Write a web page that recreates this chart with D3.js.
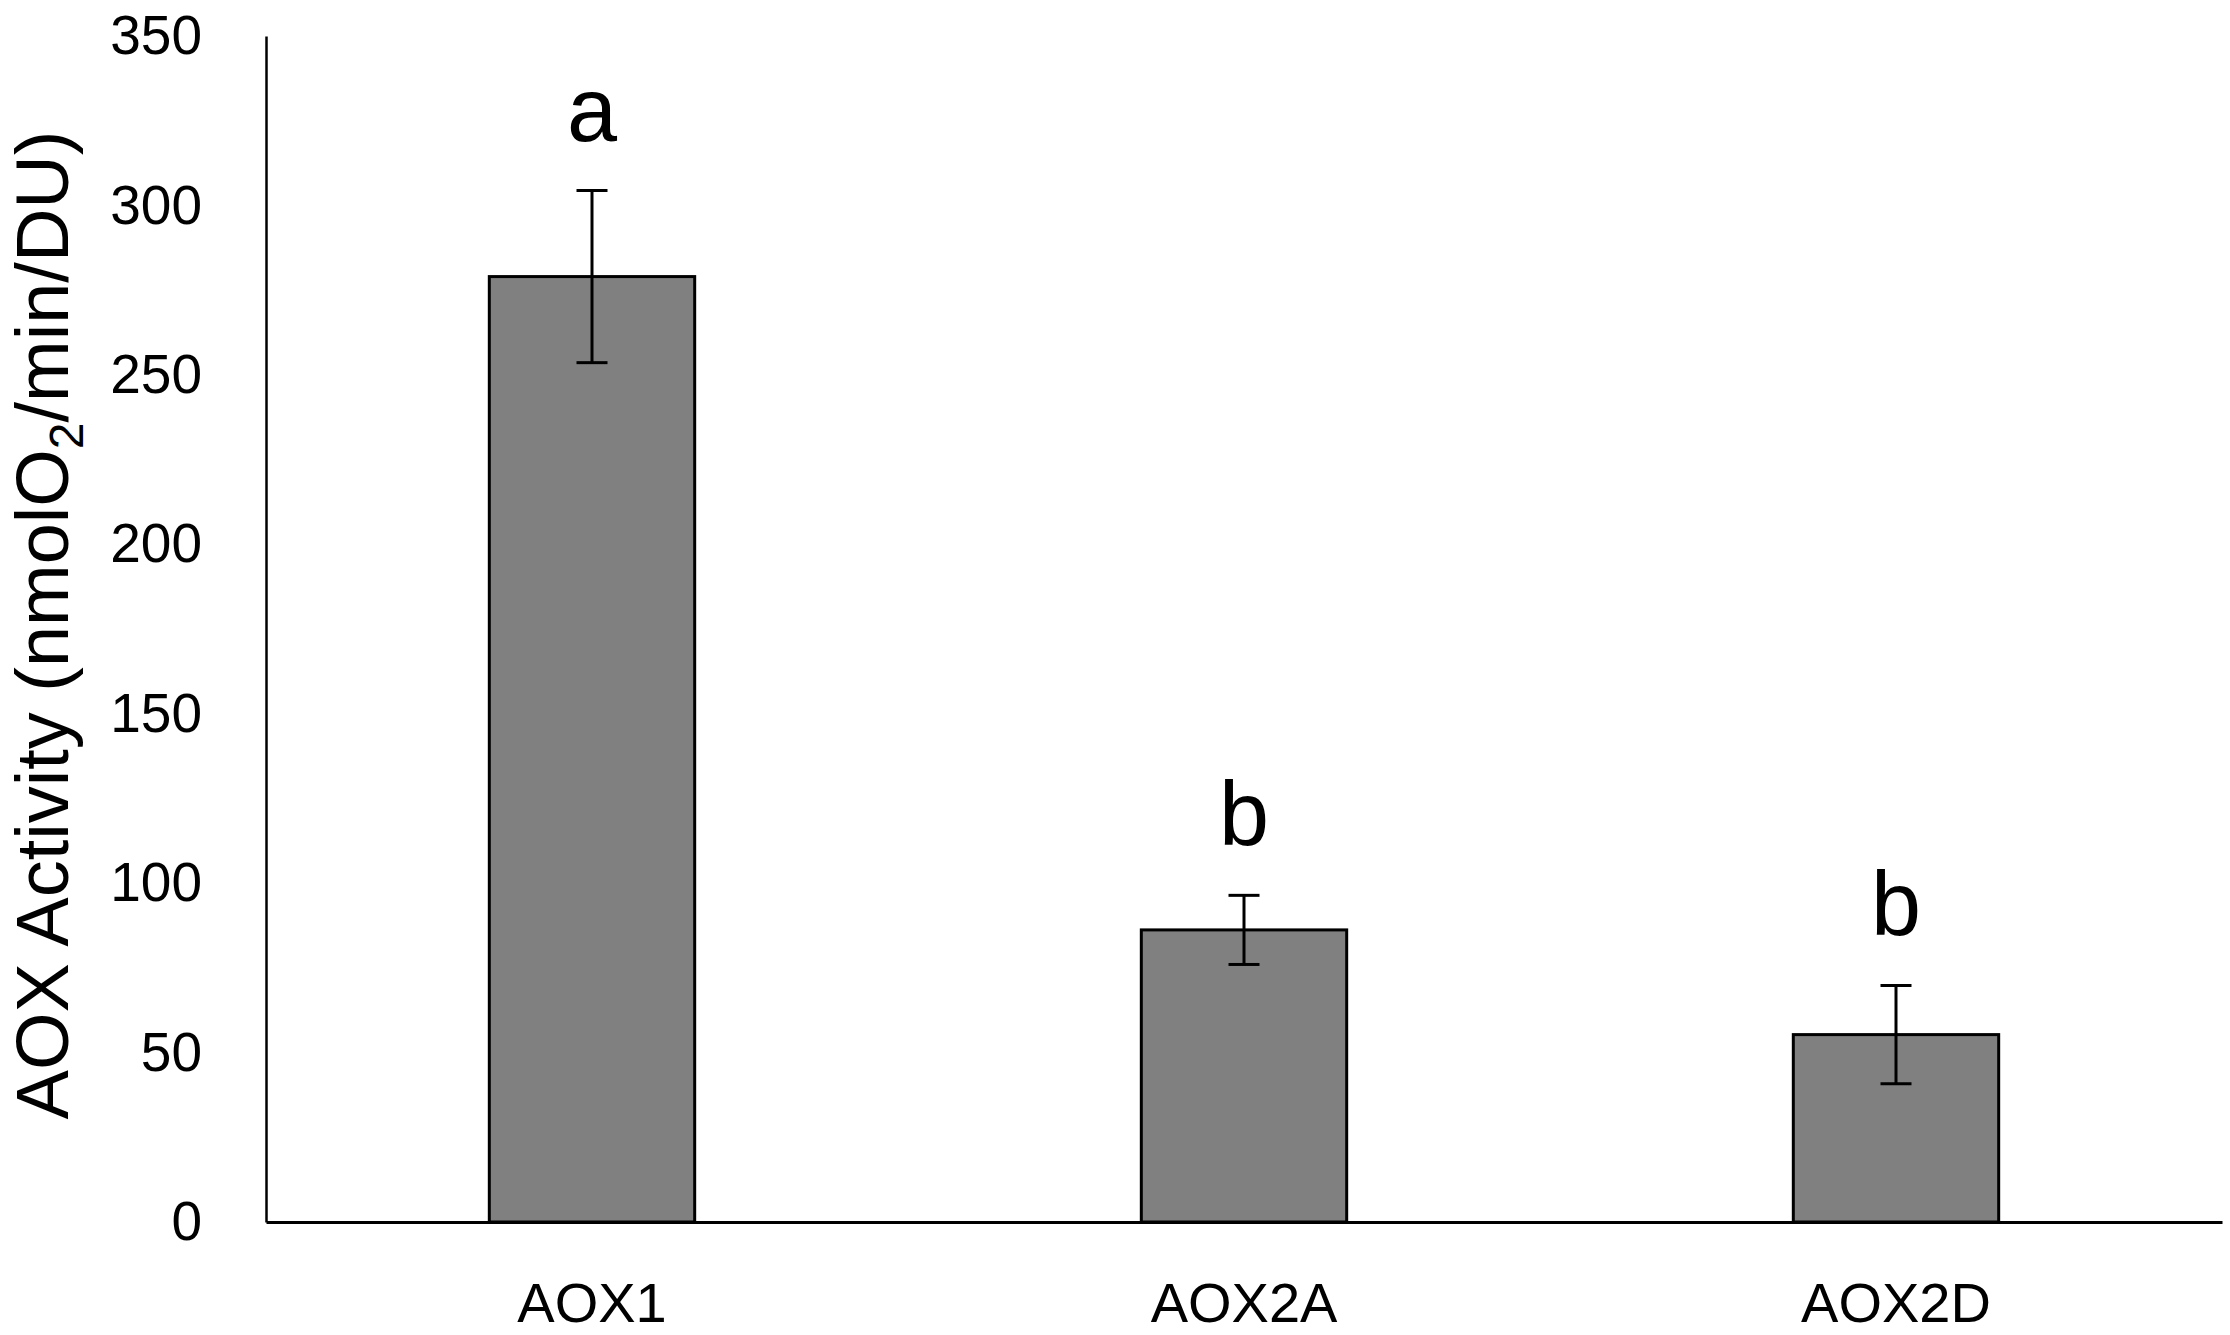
<!DOCTYPE html>
<html>
<head>
<meta charset="utf-8">
<script src="https://cdn.jsdelivr.net/npm/d3@7"></script>
<style>
  body { margin: 0; background: #fff; }
  .tick text { fill: #000; }
</style>
</head>
<body>
<div id="chart"></div>
<script>
// data
const categories = ["AOX1", "AOX2A", "AOX2D"];
const means = [279, 86.2, 55.3];
const errors = [25.4, 10.2, 14.5];
const letters = ["a", "b", "b"];
const yTicks = [0, 50, 100, 150, 200, 250, 300, 350];

const W = 2230, H = 1335;
const margin = {top: 36, right: 8, bottom: 113, left: 266};
const width = W - margin.left - margin.right;
const height = H - margin.top - margin.bottom;
const font = "'Liberation Sans', Arial, sans-serif";

const svg = d3.select("#chart").append("svg")
    .attr("width", W)
    .attr("height", H);

const g = svg.append("g")
    .attr("transform", "translate(" + margin.left + "," + margin.top + ")");

let x = d3.scaleBand()
    .domain(categories)
    .range([0, width])
    .paddingInner(0.685)
    .paddingOuter(0.3425);

let y = d3.scaleLinear()
    .domain([0, 350])
    .range([height, 0]);

let rows = categories.map((c, i) => ({cat: c, mean: means[i], err: errors[i], letter: letters[i]}));

// bars
g.selectAll("rect.bar")
    .data(rows)
    .enter().append("rect")
    .attr("class", "bar")
    .attr("x", d => x(d.cat))
    .attr("y", d => y(d.mean))
    .attr("width", x.bandwidth())
    .attr("height", d => y(0) - y(d.mean))
    .attr("fill", "#808080")
    .attr("stroke", "#000")
    .attr("stroke-width", 3);

// error bars
const capHalf = 15.5;
let eb = g.selectAll("g.err")
    .data(rows)
    .enter().append("g")
    .attr("class", "err")
    .attr("stroke", "#000")
    .attr("stroke-width", 3);

eb.append("line")
    .attr("x1", d => x(d.cat) + x.bandwidth() / 2)
    .attr("x2", d => x(d.cat) + x.bandwidth() / 2)
    .attr("y1", d => y(d.mean - d.err))
    .attr("y2", d => y(d.mean + d.err));

eb.append("line")
    .attr("x1", d => x(d.cat) + x.bandwidth() / 2 - capHalf)
    .attr("x2", d => x(d.cat) + x.bandwidth() / 2 + capHalf)
    .attr("y1", d => y(d.mean + d.err))
    .attr("y2", d => y(d.mean + d.err));

eb.append("line")
    .attr("x1", d => x(d.cat) + x.bandwidth() / 2 - capHalf)
    .attr("x2", d => x(d.cat) + x.bandwidth() / 2 + capHalf)
    .attr("y1", d => y(d.mean - d.err))
    .attr("y2", d => y(d.mean - d.err));

// significance letters
g.selectAll("text.letter")
    .data(rows)
    .enter().append("text")
    .attr("class", "letter")
    .attr("x", d => x(d.cat) + x.bandwidth() / 2)
    .attr("y", d => y(d.mean + d.err) - 50)
    .attr("text-anchor", "middle")
    .style("font-family", font)
    .style("font-size", "90px")
    .text(d => d.letter);

// y axis
let yAxis = g.append("g")
    .call(d3.axisLeft(y).tickValues(yTicks).tickSize(0).tickPadding(64));
yAxis.select(".domain").attr("stroke", "#000").attr("stroke-width", 2.5);
yAxis.selectAll("text")
    .style("font-family", font)
    .style("font-size", "55px");

// x axis
let xAxis = g.append("g")
    .attr("transform", "translate(0," + height + ")")
    .call(d3.axisBottom(x).tickSize(0).tickPadding(60));
xAxis.select(".domain").attr("stroke", "#000").attr("stroke-width", 3);
xAxis.selectAll("text")
    .style("font-family", font)
    .style("font-size", "56px");

// y axis title
let yTitle = svg.append("text")
    .attr("transform", "rotate(-90)")
    .attr("x", -625)
    .attr("y", 68)
    .attr("text-anchor", "middle")
    .style("font-family", font)
    .style("font-size", "74px")
    .attr("fill", "#000");
yTitle.append("tspan").text("AOX Activity (nmolO");
yTitle.append("tspan").attr("dy", 15).style("font-size", "48px").text("2");
yTitle.append("tspan").attr("dy", -15).text("/min/DU)");
</script>
</body>
</html>
